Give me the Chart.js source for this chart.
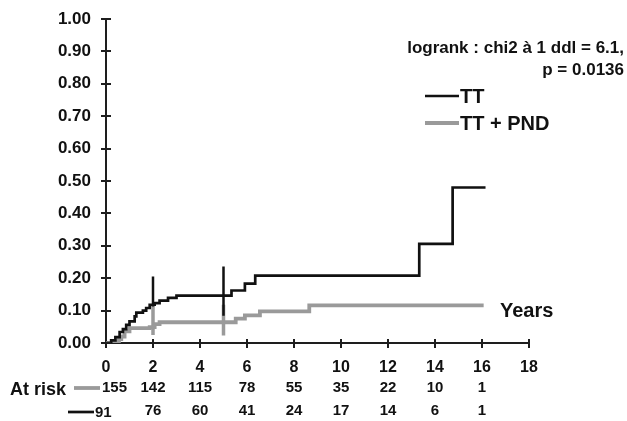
<!DOCTYPE html>
<html>
<head>
<meta charset="utf-8">
<script src="https://cdn.jsdelivr.net/npm/chart.js@4.4.1/dist/chart.umd.min.js"></script>
<style>
  html, body { margin: 0; padding: 0; background: #fff; }
  #wrap { width: 627px; height: 421px; position: relative; }
</style>
</head>
<body>
<div id="wrap"><canvas id="kmChart"></canvas></div>
<script>
// cumulative incidence (years, proportion)
const ttTimes = [0, 0.22, 0.4, 0.58, 0.72, 0.86, 1.0, 1.22, 1.29, 1.57, 1.71, 1.86, 2.07, 2.28, 2.64, 3.0, 5.34, 5.91, 6.35, 13.33, 14.75, 16.15];
const ttValues = [0, 0.008, 0.018, 0.034, 0.043, 0.056, 0.067, 0.082, 0.094, 0.1, 0.108, 0.118, 0.123, 0.131, 0.139, 0.146, 0.162, 0.183, 0.208, 0.306, 0.48, 0.48];
const pndTimes = [0, 0.43, 0.55, 0.65, 0.79, 1.0, 1.86, 2.07, 2.28, 5.52, 5.91, 6.55, 8.65, 16.07];
const pndValues = [0, 0.005, 0.012, 0.02, 0.036, 0.046, 0.049, 0.058, 0.064, 0.075, 0.085, 0.0975, 0.116, 0.116];

// vertical marks at 2 and 5 years
const markTimes = [2, 5];
const ttMarkTop = [0.205, 0.236];
const ttMarkBottom = [0.113, 0.084];
const pndMarkTop = [0.115, 0.118];
const pndMarkBottom = [0.025, 0.023];

// numbers at risk
const riskTimes = [0, 2, 4, 6, 8, 10, 12, 14, 16];
const riskPnd = [155, 142, 115, 78, 55, 35, 22, 10, 1];
const riskTt = [91, 76, 60, 41, 24, 17, 14, 6, 1];

const seriesLabels = ['TT', 'TT + PND'];
const statLines = ['logrank : chi2 à 1 ddl = 6.1,', 'p = 0.0136'];
const xTitle = 'Years';
const riskTitle = 'At risk';

const BLACK = '#111111';
const GREY = '#9a9a9a';
const AXIS = '#1e1e1e';
const FONT = '"Liberation Sans", Arial, sans-serif';

Chart.defaults.font.family = FONT;
Chart.defaults.color = '#111';

const toPoints = (xs, ys) => xs.map((x, i) => ({ x, y: ys[i] }));

const markSets = [];
markTimes.forEach((t, i) => {
  markSets.push({
    data: [{ x: t, y: ttMarkTop[i] }, { x: t, y: ttMarkBottom[i] }],
    borderColor: BLACK, borderWidth: 2.5, showLine: true, pointRadius: 0,
  });
  markSets.push({
    data: [{ x: t, y: pndMarkTop[i] }, { x: t, y: pndMarkBottom[i] }],
    borderColor: GREY, borderWidth: 3.5, showLine: true, pointRadius: 0,
  });
});

const decorPlugin = {
  id: 'decor',
  afterDraw(chart) {
    const { ctx, scales } = chart;
    const xs = scales.x;
    const ys = scales.y;
    const x0 = xs.getPixelForValue(0);
    const y0 = ys.getPixelForValue(0);
    ctx.save();

    // inner half of the cross ticks
    ctx.strokeStyle = AXIS;
    ctx.lineWidth = 2;
    ctx.beginPath();
    for (let v = 0; v <= 1.0001; v += 0.1) {
      const py = Math.round(ys.getPixelForValue(v));
      ctx.moveTo(x0, py);
      ctx.lineTo(x0 + 5, py);
    }
    for (let t = 2; t <= 18; t += 2) {
      const px = Math.round(xs.getPixelForValue(t));
      ctx.moveTo(px, y0);
      ctx.lineTo(px, y0 - 4);
    }
    ctx.stroke();

    // statistics
    ctx.fillStyle = '#111';
    ctx.textAlign = 'right';
    ctx.textBaseline = 'middle';
    ctx.font = `bold 17px ${FONT}`;
    ctx.fillText(statLines[0], 624, 48);
    ctx.fillText(statLines[1], 624, 70);

    // legend
    const legendRows = [
      { label: seriesLabels[0], color: BLACK, width: 2.7, y: 96 },
      { label: seriesLabels[1], color: GREY, width: 3.8, y: 123 },
    ];
    ctx.font = `bold 20px ${FONT}`;
    ctx.textAlign = 'left';
    legendRows.forEach((row) => {
      ctx.strokeStyle = row.color;
      ctx.lineWidth = row.width;
      ctx.beginPath();
      ctx.moveTo(425, row.y);
      ctx.lineTo(459, row.y);
      ctx.stroke();
      ctx.fillText(row.label, 460, row.y + 1);
    });

    // axis title
    ctx.fillText(xTitle, 500, 311);

    // at risk table
    ctx.font = `bold 18px ${FONT}`;
    ctx.fillText(riskTitle, 10, 390);
    ctx.strokeStyle = GREY;
    ctx.lineWidth = 3.8;
    ctx.beginPath();
    ctx.moveTo(74, 388);
    ctx.lineTo(100, 388);
    ctx.stroke();
    ctx.strokeStyle = BLACK;
    ctx.lineWidth = 2.7;
    ctx.beginPath();
    ctx.moveTo(68, 412);
    ctx.lineTo(94, 412);
    ctx.stroke();

    ctx.font = `bold 15px ${FONT}`;
    riskTimes.forEach((t, i) => {
      const px = xs.getPixelForValue(t);
      if (i === 0) {
        ctx.textAlign = 'left';
        ctx.fillText(String(riskPnd[i]), px - 4, 388);
        ctx.fillText(String(riskTt[i]), px - 11, 413);
      } else {
        ctx.textAlign = 'center';
        ctx.fillText(String(riskPnd[i]), px, 388);
        ctx.fillText(String(riskTt[i]), px, 411);
      }
    });
    ctx.restore();
  },
};

new Chart(document.getElementById('kmChart'), {
  type: 'scatter',
  data: {
    datasets: [
      {
        label: seriesLabels[0],
        data: toPoints(ttTimes, ttValues),
        borderColor: BLACK,
        borderWidth: 2.7,
        showLine: true,
        stepped: true,
        pointRadius: 0,
      },
      {
        label: seriesLabels[1],
        data: toPoints(pndTimes, pndValues),
        borderColor: GREY,
        borderWidth: 3.8,
        showLine: true,
        stepped: true,
        pointRadius: 0,
      },
      ...markSets,
    ],
  },
  options: {
    responsive: true,
    maintainAspectRatio: false,
    animation: false,
    layout: { padding: { top: 19, right: 98, bottom: 0, left: 0 } },
    plugins: { legend: { display: false }, tooltip: { enabled: false } },
    scales: {
      x: {
        type: 'linear',
        min: 0,
        max: 18,
        ticks: {
          stepSize: 2,
          padding: 10,
          color: '#111',
          font: { size: 16, weight: 'bold' },
          maxRotation: 0,
        },
        grid: { drawOnChartArea: false, drawTicks: true, tickLength: 5, color: AXIS, lineWidth: 2 },
        border: { display: true, color: AXIS, width: 2 },
        afterFit(scale) {
          scale.height = 78;
          scale.paddingLeft = 0;
          scale.paddingRight = 0;
        },
      },
      y: {
        min: 0,
        max: 1,
        ticks: {
          stepSize: 0.1,
          padding: 10,
          color: '#111',
          font: { size: 17, weight: 'bold' },
          callback(value) {
            return Number(value).toFixed(2);
          },
        },
        grid: { drawOnChartArea: false, drawTicks: true, tickLength: 5, color: AXIS, lineWidth: 2 },
        border: { display: true, color: AXIS, width: 2 },
        afterFit(scale) {
          scale.width = 106;
          scale.paddingTop = 0;
          scale.paddingBottom = 0;
        },
      },
    },
  },
  plugins: [decorPlugin],
});
</script>
</body>
</html>
